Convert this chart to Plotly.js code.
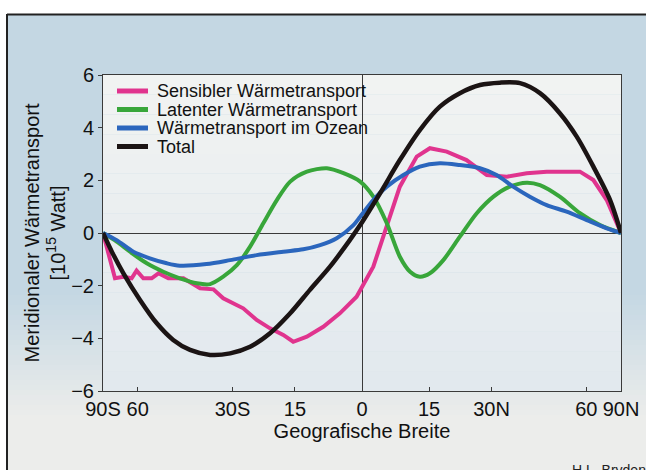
<!DOCTYPE html>
<html>
<head>
<meta charset="utf-8">
<script src="https://cdn.plot.ly/plotly-3.0.1.min.js"></script>
<style>html,body{margin:0;padding:0;background:#fff;}#chart{width:646px;height:470px;}</style>
</head>
<body>
<div id="chart"></div>
<script>
// Latitude (degrees, negative = south) and transport values [10^15 W]
const sensLat = [-90,-72.5,-67.1,-62.8,-60.5,-57.6,-54.3,-51.8,-48.4,-43.6,-38.7,-35.0,-32.4,-27.3,-24.0,-20.8,-17.7,-15.4,-12.3,-8.6,-4.9,-1.2,2.5,5.5,8.4,12.2,15.2,19.1,23.8,28.8,34.0,39.5,45.5,52.2,57.3,63.3,70.9,90];
const sensVal = [0,-1.72,-1.66,-1.72,-1.43,-1.72,-1.72,-1.53,-1.72,-1.72,-2.10,-2.14,-2.48,-2.86,-3.30,-3.62,-3.87,-4.13,-3.94,-3.56,-3.05,-2.42,-1.28,0.24,1.76,2.90,3.22,3.09,2.77,2.20,2.14,2.27,2.33,2.33,2.33,2.01,1.25,0];

const latLat = [-90,-71.3,-63.6,-56.2,-50.1,-44.7,-39.6,-35.9,-32.4,-28.9,-25.6,-22.4,-19.2,-16.1,-12.3,-7.8,-4.1,-0.4,2.5,5.5,8.4,10.7,12.9,15.2,18.3,22.2,26.3,30.5,34.8,39.5,43.4,49.8,57.3,66.8,90];
const latVal = [0,-0.33,-0.71,-1.15,-1.47,-1.72,-1.91,-1.94,-1.66,-1.22,-0.52,0.37,1.25,1.95,2.33,2.46,2.27,1.95,1.38,0.37,-0.90,-1.47,-1.66,-1.53,-1.03,-0.14,0.75,1.38,1.76,1.91,1.82,1.38,0.75,0.30,0];

const oceLat = [-90,-71.3,-62.0,-55.0,-48.9,-44.7,-36.9,-30.6,-24.0,-17.7,-13.1,-9.3,-5.6,-1.9,-0.4,2.5,5.5,9.2,12.9,17.5,22.2,27.1,31.3,35.7,40.4,45.5,52.2,60.2,70.9,90];
const oceVal = [0,-0.27,-0.71,-0.96,-1.15,-1.24,-1.18,-1.03,-0.84,-0.71,-0.62,-0.46,-0.20,0.30,0.62,1.25,1.76,2.20,2.52,2.65,2.58,2.46,2.20,1.76,1.38,1.06,0.81,0.49,0.18,0];

const totLat = [-90,-75.0,-67.1,-59.0,-52.4,-46.8,-41.6,-35.9,-30.6,-25.6,-20.8,-16.1,-11.6,-7.1,-2.7,-0.4,4.0,8.4,12.9,17.5,22.2,27.1,32.2,37.6,43.4,49.8,56.0,63.3,73.3,90];
const totVal = [0,-0.71,-1.53,-2.54,-3.43,-4.06,-4.44,-4.63,-4.57,-4.32,-3.81,-3.05,-2.16,-1.28,-0.27,0.30,1.51,2.77,3.91,4.80,5.31,5.62,5.71,5.69,5.31,4.55,3.66,2.52,1.25,0];

const seriesNames = ['Sensibler Wärmetransport','Latenter Wärmetransport','Wärmetransport im Ozean','Total'];
const tickLat = [-90,-60,-30,-15,0,15,30,60,90];
const tickText = ['90S','60','30S','15','0','15','30N','60','90N'];
const yTicks = [-6,-4,-2,0,2,4,6];

// x axis is area-weighted: sine of latitude
const s = lat => Math.sin(lat*Math.PI/180);

const FONT = 'Liberation Sans, Arial, Helvetica, sans-serif';
const colors = ['#e0348e','#38a63a','#2b66bd','#1b1414'];
const lats = [sensLat, latLat, oceLat, totLat];
const vals = [sensVal, latVal, oceVal, totVal];

const traces = lats.map((la,i)=>({
  x: la.map(s), y: vals[i], name: seriesNames[i], type:'scatter', mode:'lines',
  line:{color:colors[i], width: i===3?4.5:4, shape: i===0?'linear':'spline', smoothing:0.8},
  hoverinfo:'skip', showlegend:false
}));

// pixel helpers for decoration
const L=103, R=621, T=75, B=391;
const px = p => (p-L)/(R-L);
const py = p => (B-p)/(B-T);
const mix = (a,b,f) => `rgb(${a.map((v,k)=>Math.round(v+(b[k]-v)*f)).join(',')})`;

const shapes = [];
// page background: blue fading to light at the bottom
const c1=[196,215,227], c2=[236,237,235];
const g0=290, g1=415, step=5;
for (let yy=g0; yy<470; yy+=step){
  const f = Math.min(1, Math.max(0,(yy-g0)/(g1-g0)));
  shapes.push({type:'rect', xref:'paper', yref:'paper', layer:'below',
    x0:px(0), x1:px(646), y0:py(Math.min(470,yy+step)), y1:py(yy),
    fillcolor:mix(c1,c2,f), line:{width:0}});
}
// white margins and frame lines
shapes.push({type:'rect', xref:'paper', yref:'paper', layer:'below', x0:px(0), x1:px(646), y0:py(14), y1:py(0), fillcolor:'#ffffff', line:{width:0}});
shapes.push({type:'rect', xref:'paper', yref:'paper', layer:'below', x0:px(0), x1:px(7), y0:py(470), y1:py(0), fillcolor:'#ffffff', line:{width:0}});
shapes.push({type:'line', xref:'paper', yref:'paper', layer:'below', x0:px(7), x1:px(646), y0:py(14.5), y1:py(14.5), line:{color:'#222', width:2}});
shapes.push({type:'line', xref:'paper', yref:'paper', layer:'below', x0:px(7), x1:px(7), y0:py(470), y1:py(14), line:{color:'#222', width:2}});
// plot area background: near white at top, faint blue at bottom
const p1=[241,243,242], p2=[226,233,238];
const nb=16;
for (let k=0;k<nb;k++){
  shapes.push({type:'rect', xref:'paper', yref:'paper', layer:'below', x0:0, x1:1,
    y0:1-(k+1)/nb, y1:1-k/nb, fillcolor:mix(p1,p2,k/(nb-1)), line:{width:0}});
}

// legend (swatches + labels)
const annotations = [];
const legRowY = [91, 109.5, 128, 146.5];
seriesNames.forEach((n,i)=>{
  shapes.push({type:'line', xref:'paper', yref:'paper', x0:px(117), x1:px(148), y0:py(legRowY[i]), y1:py(legRowY[i]),
    line:{color:colors[i], width:5}});
  annotations.push({text:n, xref:'paper', yref:'paper', x:px(155), y:py(legRowY[i]), xanchor:'left', yanchor:'middle',
    showarrow:false, font:{family:FONT, size:18, color:'#111'}});
});
annotations.push({text:'H.L. Bryden', xref:'paper', yref:'paper', x:px(570), y:py(460), xanchor:'left', yanchor:'top',
  showarrow:false, font:{family:FONT, size:14, color:'#222'}});

const axisCommon = {showgrid:false, linecolor:'#3a3a3a', linewidth:1, tickcolor:'#3a3a3a', ticklen:4, tickwidth:1,
  zeroline:true, zerolinecolor:'#3a3a3a', zerolinewidth:1, tickfont:{family:FONT, size:20, color:'#111'}};

const layout = {
  width:646, height:470,
  margin:{l:L, r:646-R, t:T, b:470-B},
  paper_bgcolor:'rgb(196,215,227)', plot_bgcolor:'rgba(0,0,0,0)',
  font:{family:FONT, color:'#111'},
  showlegend:false,
  xaxis: Object.assign({}, axisCommon, {
    range:[-1,1], tickmode:'array', tickvals:tickLat.map(s), ticktext:tickText,
    ticks:'inside', showline:true, mirror:true,
    title:{text:'Geografische Breite', font:{family:FONT, size:20, color:'#111'}, standoff:3}
  }),
  yaxis: Object.assign({}, axisCommon, {
    range:[-6,6], tickmode:'array', tickvals:yTicks, ticktext:yTicks.map(v=>v<0?'\u2212'+(-v):String(v)),
    ticks:'outside', showline:true, mirror:true,
    title:{text:'Meridionaler Wärmetransport<br>[10<sup>15</sup> Watt]', font:{family:FONT, size:20, color:'#111'}, standoff:0}
  }),
  yaxis2: {overlaying:'y', side:'right', anchor:'x', range:[-6,6], tickmode:'array', tickvals:[-4,-2,2,4],
    ticks:'inside', ticklen:4, tickcolor:'#3a3a3a', showticklabels:false, showgrid:false, zeroline:false, showline:false},
  shapes: shapes,
  annotations: annotations
};

Plotly.newPlot('chart', traces, layout, {staticPlot:true, displayModeBar:false});
</script>
</body>
</html>
